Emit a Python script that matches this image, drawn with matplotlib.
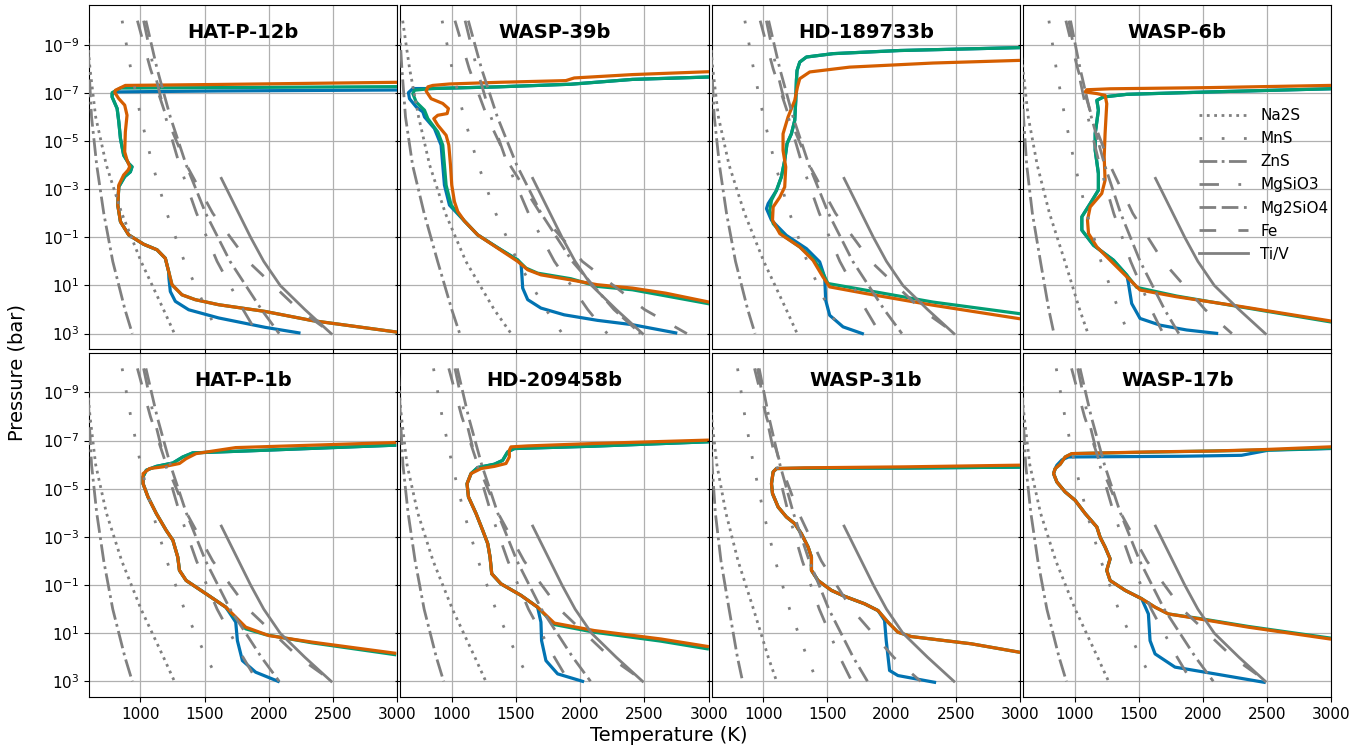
import numpy as np
import matplotlib
matplotlib.use("Agg")
import matplotlib.pyplot as plt
from matplotlib.ticker import NullLocator

# condensation curves: temperature (K) at these log10(P/bar) nodes
LOGP_NODES = [-10, -8, -6, -4, -2, 0, 2, 3]

NA2S_SOLAR = [575, 608, 652, 735, 855, 1005, 1180, 1265]
MNS_SOLAR = [858, 925, 1003, 1095, 1206, 1342, 1513, 1612]
ZNS_SOLAR = [585, 600, 620, 660, 715, 785, 880, 937]
MGSIO3_SOLAR = [1025, 1104, 1196, 1305, 1437, 1597, 1799, 1910]
MG2SIO4_SOLAR = [1043, 1130, 1233, 1357, 1508, 1698, 1942, 2080]
FE_SOLAR = [977, 1078, 1202, 1359, 1563, 1838, 2232, 2495]

NA2S_RICH = [618, 672, 742, 828, 950, 1110, 1330, 1462]
MNS_RICH = [925, 1003, 1095, 1206, 1342, 1513, 1733, 1860]
ZNS_RICH = [590, 612, 640, 695, 785, 890, 1000, 1062]
MGSIO3_RICH = [1104, 1196, 1305, 1437, 1597, 1799, 2058, 2210]
MG2SIO4_RICH = [1129, 1232, 1355, 1506, 1695, 1938, 2262, 2469]
FE_RICH = [1025, 1136, 1276, 1453, 1689, 2016, 2500, 2830]

NA2S_POOR = [560, 598, 640, 710, 805, 925, 1040, 1105]
MNS_POOR = [801, 858, 925, 1003, 1095, 1206, 1342, 1420]
ZNS_POOR = [570, 588, 603, 628, 672, 735, 800, 840]
MGSIO3_POOR = [956, 1025, 1104, 1196, 1305, 1437, 1597, 1690]
MG2SIO4_POOR = [969, 1044, 1131, 1235, 1359, 1511, 1701, 1812]
FE_POOR = [933, 1025, 1136, 1276, 1453, 1689, 2016, 2225]

TIV_LOGP = [-3.45, -3, -2, -1, 0, 1, 2, 3]
TIV_T = [1630, 1672, 1765, 1858, 1960, 2088, 2280, 2485]

SPECIES = ["Na2S", "MnS", "ZnS", "MgSiO3", "Mg2SiO4", "Fe", "Ti/V"]

# T-P profiles as (T [K], log10 P [bar]) pairs, top of atmosphere first
HATP12_MID = [(824, -2.34), (845, -1.65), (909, -1.10), (1026, -0.71), (1130, -0.48),
              (1194, -0.13), (1220, 0.42)]
HATP12_ORANGE = [(3000, -7.44), (1600, -7.35), (883, -7.31), (806, -7.11), (801, -7.01),
                 (832, -6.76), (878, -6.49), (896, -6.07), (883, -5.38), (878, -4.55),
                 (896, -4.21), (917, -3.93), (904, -3.79), (870, -3.59), (832, -3.17)] \
    + HATP12_MID + [(1246, 0.97), (1324, 1.39), (1427, 1.59), (1609, 1.80), (1971, 2.08),
                    (2338, 2.46), (3000, 2.94)]
HATP12_GREEN = [(3000, -7.26), (1600, -7.22), (845, -7.20), (780, -7.01), (780, -6.83),
                (819, -6.35), (832, -5.80), (845, -5.10), (870, -4.41), (909, -4.07),
                (935, -3.93), (922, -3.72), (878, -3.52), (832, -3.10)] \
    + HATP12_MID + [(1246, 0.97), (1324, 1.39), (1427, 1.59), (1609, 1.80), (1971, 2.08),
                    (2338, 2.46), (3000, 2.94)]
HATP12_BLUE = [(3000, -7.12), (1600, -7.08), (806, -7.04), (780, -6.95), (780, -6.83),
               (819, -6.35), (832, -5.80), (845, -5.10), (870, -4.41), (909, -4.07),
               (935, -3.93), (922, -3.72), (878, -3.52), (832, -3.10)] \
    + HATP12_MID + [(1222, 0.70), (1233, 1.25), (1272, 1.66), (1376, 2.01), (1609, 2.35),
                    (1971, 2.74), (2234, 2.97)]

WASP39_ORANGE = [(3002, -7.88), (2406, -7.76), (1953, -7.62), (1888, -7.51), (1370, -7.44),
                 (982, -7.37), (852, -7.31), (814, -7.25), (801, -7.07), (839, -6.76),
                 (930, -6.56), (974, -6.35), (964, -6.14), (891, -6.07), (860, -5.93),
                 (891, -5.66), (956, -5.24), (977, -4.83), (990, -4.00), (1000, -3.17),
                 (1021, -2.48), (1047, -2.07), (1098, -1.68), (1202, -1.10), (1357, -0.55),
                 (1513, 0.00), (1591, 0.35), (1694, 0.56), (1927, 0.77), (2134, 0.97),
                 (2406, 1.11), (2665, 1.32), (3002, 1.69)]
WASP39_TOP = [(3000, -7.66), (2406, -7.56), (1927, -7.36), (1357, -7.25), (839, -7.18)]
WASP39_GREEN = WASP39_TOP + [(710, -7.11), (697, -6.97), (723, -6.62), (788, -6.28),
                             (814, -5.93), (891, -5.38), (930, -4.83), (943, -4.00),
                             (956, -3.17), (995, -2.34), (1098, -1.68), (1202, -1.10),
                             (1357, -0.57), (1513, -0.06), (1578, 0.28), (1669, 0.49),
                             (1927, 0.72), (2134, 1.04), (2406, 1.18), (3000, 1.76)]
WASP39_BLUE = WASP39_TOP + [(697, -7.18), (663, -7.01), (671, -6.76), (723, -6.42),
                            (775, -6.21), (788, -6.00), (865, -5.52), (917, -4.83),
                            (930, -4.00), (943, -3.17), (982, -2.34), (1098, -1.68),
                            (1202, -1.10), (1357, -0.57), (1513, -0.06), (1539, 0.12),
                            (1544, 0.42), (1552, 1.11), (1591, 1.59), (1694, 1.94),
                            (1875, 2.22), (2134, 2.45), (2406, 2.63), (2743, 2.97)]

HD189_TOP = [(2994, -8.88), (2062, -8.76), (1544, -8.63), (1337, -8.49), (1285, -8.28),
             (1264, -7.93), (1259, -7.52), (1254, -6.69), (1246, -5.86), (1220, -5.30),
             (1186, -4.89), (1168, -4.20), (1142, -3.51), (1104, -2.95)]
HD189_GREEN = HD189_TOP + [(1065, -2.54), (1052, -2.12), (1078, -1.57), (1155, -1.08),
                           (1285, -0.60), (1389, -0.11), (1453, 0.37), (1505, 0.92),
                           (1803, 1.20), (2321, 1.69), (2994, 2.17)]
HD189_ORANGE = [(2994, -8.35), (2321, -8.24), (1673, -8.07), (1363, -7.87), (1285, -7.59),
                (1267, -7.24), (1246, -6.69), (1194, -6.00), (1155, -5.30), (1155, -4.61),
                (1176, -3.92), (1168, -3.09), (1130, -2.67), (1078, -2.26), (1073, -1.71),
                (1130, -1.15), (1285, -0.60), (1389, -0.04), (1466, 0.65), (1518, 1.06),
                (1803, 1.34), (2321, 1.82), (2994, 2.38)]
HD189_BLUE = HD189_TOP + [(1039, -2.40), (1026, -2.19), (1065, -1.71), (1181, -1.08),
                          (1337, -0.53), (1440, 0.02), (1479, 0.65), (1487, 1.62),
                          (1518, 2.24), (1622, 2.72), (1772, 3.00)]

WASP6_ORANGE = [(2987, -7.31), (2054, -7.22), (1277, -7.17), (1096, -7.13), (1083, -7.04),
                (1174, -6.97), (1238, -6.90), (1251, -6.55), (1238, -5.31), (1231, -4.34),
                (1238, -3.37), (1212, -2.82), (1122, -2.26), (1101, -1.71), (1109, -1.16),
                (1174, -0.60), (1303, 0.09), (1407, 0.64), (1510, 1.19), (1795, 1.47),
                (2313, 1.89), (2987, 2.47)]
WASP6_UPPER = [(2987, -7.17), (2054, -7.04), (1407, -6.94), (1225, -6.83), (1174, -6.69),
               (1186, -6.28), (1161, -5.31), (1161, -4.62), (1186, -3.65), (1186, -2.96),
               (1122, -2.40), (1057, -1.85), (1057, -1.30), (1148, -0.67), (1303, -0.05),
               (1407, 0.57)]
WASP6_GREEN = WASP6_UPPER + [(1484, 1.08), (1795, 1.44), (2313, 1.91), (2987, 2.51)]
WASP6_BLUE = WASP6_UPPER + [(1420, 0.92), (1445, 1.75), (1510, 2.37), (1666, 2.65),
                            (1873, 2.85), (2106, 2.99)]

HATP1_MID = [(1059, -4.66), (1124, -3.97), (1201, -3.27), (1253, -2.86), (1291, -2.16),
             (1304, -1.61), (1356, -1.19), (1510, -0.64), (1665, -0.08)]
HATP1_TOP = [(2979, -6.81), (1820, -6.57), (1407, -6.49), (1330, -6.32), (1253, -6.07),
             (1124, -5.93), (1046, -5.77), (1021, -5.50), (1021, -5.21)]
HATP1_ORANGE = [(2979, -6.92), (2335, -6.81), (1742, -6.71), (1433, -6.46), (1356, -6.25),
                (1304, -6.05), (1175, -5.91), (1072, -5.84), (1021, -5.63), (1021, -5.21)] \
    + HATP1_MID + [(1742, 0.33), (1820, 0.75), (2000, 1.10), (2335, 1.37), (2979, 1.83)]
HATP1_GREEN = HATP1_TOP + HATP1_MID + [(1742, 0.38), (1820, 0.82), (1974, 1.06),
                                       (2335, 1.40), (2979, 1.89)]
HATP1_BLUE = HATP1_TOP + HATP1_MID + [(1742, 0.54), (1755, 1.31), (1794, 2.14),
                                      (1897, 2.62), (2072, 3.00)]

HD209_MID = [(1150, -5.63), (1119, -5.21), (1130, -4.66), (1189, -3.97), (1241, -3.27),
             (1280, -2.72), (1298, -2.16), (1311, -1.47), (1383, -1.05), (1539, -0.57),
             (1668, -0.08)]
HD209_TOP = [(2989, -6.95), (2109, -6.77), (1487, -6.67), (1435, -6.53), (1396, -6.18),
             (1332, -6.02), (1202, -5.88)]
HD209_ORANGE = [(2989, -7.02), (2109, -6.88), (1591, -6.78), (1461, -6.74), (1448, -6.60),
                (1448, -6.32), (1422, -6.05), (1332, -5.93), (1228, -5.84)] \
    + HD209_MID + [(1798, 0.58), (2109, 0.89), (2627, 1.24), (2989, 1.55)]
HD209_GREEN = HD209_TOP + HD209_MID + [(1798, 0.64), (2109, 0.96), (2627, 1.33),
                                       (2989, 1.65)]
HD209_BLUE = HD209_TOP + HD209_MID + [(1694, 0.54), (1699, 1.31), (1733, 2.14),
                                      (1824, 2.69), (2018, 3.00)]

WASP31_MID = [(1104, -5.84), (1078, -5.70), (1065, -5.21), (1073, -4.80), (1117, -4.24),
              (1181, -3.83), (1246, -3.55), (1298, -3.13), (1350, -2.58), (1376, -2.16),
              (1376, -1.61), (1427, -1.19), (1531, -0.78), (1635, -0.53), (1790, -0.22),
              (1894, 0.06)]
WASP31_ORANGE = [(2994, -5.98), (2101, -5.91), (1324, -5.87)] + WASP31_MID \
    + [(1971, 0.54), (2049, 0.96), (2153, 1.14), (2619, 1.44), (2994, 1.79)]
WASP31_GREEN = [(2994, -5.90), (2101, -5.86), (1324, -5.85)] + WASP31_MID \
    + [(1971, 0.54), (2049, 0.96), (2153, 1.14), (2619, 1.44), (2994, 1.79)]
WASP31_BLUE = [(2994, -5.90), (2101, -5.86), (1324, -5.85)] + WASP31_MID \
    + [(1945, 0.47), (1958, 1.31), (1984, 2.55), (2049, 2.76), (2334, 3.04)]

WASP17_MID = [(850, -5.84), (837, -5.63), (863, -5.28), (927, -4.87), (1005, -4.52),
              (1083, -3.97), (1174, -3.41), (1199, -2.99), (1238, -2.58), (1277, -2.09),
              (1251, -1.61), (1277, -1.19), (1394, -0.78), (1523, -0.43)]
WASP17_ORANGE = [(2987, -6.74), (2481, -6.63), (2093, -6.57), (1575, -6.53), (979, -6.46),
                 (927, -6.32), (889, -6.02)] + WASP17_MID \
    + [(1627, -0.08), (1730, 0.20), (1963, 0.40), (2352, 0.75), (2987, 1.24)]
WASP17_GREEN = [(2987, -6.68), (2400, -6.60), (1575, -6.52), (979, -6.46), (927, -6.32),
                (889, -6.02)] + WASP17_MID \
    + [(1627, -0.08), (1730, 0.20), (1963, 0.38), (2352, 0.72), (2987, 1.20)]
WASP17_BLUE = [(2987, -6.67), (2507, -6.60), (2300, -6.39), (1834, -6.35), (953, -6.32),
               (902, -6.20), (863, -5.98)] + WASP17_MID \
    + [(1575, 0.20), (1588, 1.31), (1627, 1.86), (1782, 2.41), (2093, 2.69), (2476, 3.04)]

PLANETS = ["HAT-P-12b", "WASP-39b", "HD-189733b", "WASP-6b",
           "HAT-P-1b", "HD-209458b", "WASP-31b", "WASP-17b"]
METALLICITY = ["solar", "rich", "solar", "poor", "solar", "solar", "poor", "solar"]
PROFILES = [
    (HATP12_BLUE, HATP12_GREEN, HATP12_ORANGE),
    (WASP39_BLUE, WASP39_GREEN, WASP39_ORANGE),
    (HD189_BLUE, HD189_GREEN, HD189_ORANGE),
    (WASP6_BLUE, WASP6_GREEN, WASP6_ORANGE),
    (HATP1_BLUE, HATP1_GREEN, HATP1_ORANGE),
    (HD209_BLUE, HD209_GREEN, HD209_ORANGE),
    (WASP31_BLUE, WASP31_GREEN, WASP31_ORANGE),
    (WASP17_BLUE, WASP17_GREEN, WASP17_ORANGE),
]

COND = {
    "solar": [NA2S_SOLAR, MNS_SOLAR, ZNS_SOLAR, MGSIO3_SOLAR, MG2SIO4_SOLAR, FE_SOLAR],
    "rich": [NA2S_RICH, MNS_RICH, ZNS_RICH, MGSIO3_RICH, MG2SIO4_RICH, FE_RICH],
    "poor": [NA2S_POOR, MNS_POOR, ZNS_POOR, MGSIO3_POOR, MG2SIO4_POOR, FE_POOR],
}

PROFILE_COLORS = ["#0173b2", "#029e73", "#d55e00"]
STYLES = [":", (0, (1, 7)), "-.", (0, (7, 7, 1, 7)), (0, (6, 2, 6, 2, 1, 2)),
          (0, (6, 8)), "-"]

fig, axes = plt.subplots(2, 4, figsize=(13.69, 7.5), dpi=100, sharex=True, sharey=True)
fig.subplots_adjust(left=0.065, right=0.9726, top=0.9933, bottom=0.0707,
                    wspace=0.0097, hspace=0.0102)

for i, ax in enumerate(axes.flat):
    ax.set_yscale("log")
    ax.set_axisbelow(True)
    ax.grid(True, color="#b0b0b0", linewidth=0.9)

    for prof, c in zip(PROFILES[i], PROFILE_COLORS):
        arr = np.array(prof)
        ax.plot(arr[:, 0], 10.0 ** arr[:, 1], color=c, lw=2.3, zorder=3)

    p_nodes = 10.0 ** np.array(LOGP_NODES)
    for sp, temps, ls in zip(SPECIES, COND[METALLICITY[i]], STYLES):
        ax.plot(temps, p_nodes, color="grey", ls=ls, lw=2, label=sp, zorder=4)
    ax.plot(TIV_T, 10.0 ** np.array(TIV_LOGP), color="grey", ls="-", lw=2,
            label="Ti/V", zorder=4)

    ax.text(0.5, 0.92, PLANETS[i], transform=ax.transAxes, ha="center", va="center",
            fontsize=14, fontweight="bold")

    ax.set_xlim(600, 3000)
    ax.set_ylim(10 ** 3.65, 10 ** -10.65)
    ax.set_xticks([1000, 1500, 2000, 2500, 3000])
    ax.set_yticks([1e-9, 1e-7, 1e-5, 1e-3, 1e-1, 1e1, 1e3])
    ax.yaxis.set_minor_locator(NullLocator())
    ax.tick_params(labelsize=11)

axes[0, 3].legend(loc="upper right", bbox_to_anchor=(1.01, 0.718), frameon=False,
                  fontsize=11, handlelength=3.2, labelspacing=0.53, borderaxespad=0)

fig.text(0.4887, 0.0187, "Temperature (K)", ha="center", va="center", fontsize=14)
fig.text(0.0124, 0.503, "Pressure (bar)", ha="center", va="center", rotation=90,
         fontsize=14)

plt.savefig("out.png", dpi=100)
